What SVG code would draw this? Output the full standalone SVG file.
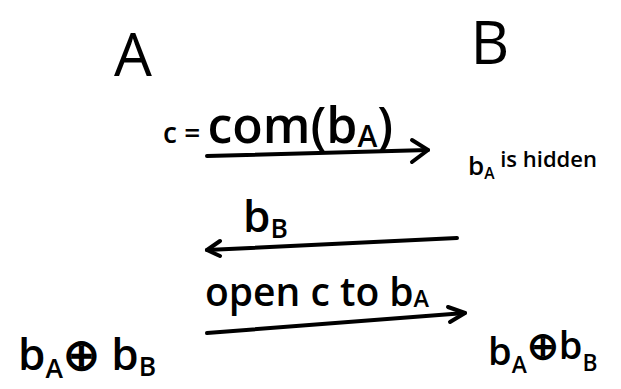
<svg xmlns="http://www.w3.org/2000/svg" width="621" height="389" viewBox="0 0 621 389">
<defs>
<style>
text{font-family:"Open Sans","Liberation Sans",sans-serif;fill:#000;font-weight:600;}
.big{font-size:60px;font-weight:400;}
.lbl{font-size:44px;}
.sm{font-size:26px;}
.sub{font-size:0.6em;}
.conn line,.conn polyline{stroke:#000;stroke-width:4;fill:none;stroke-linecap:round;stroke-linejoin:round;}
</style>
</defs>
<rect width="621" height="389" fill="#fff"/>
<g id="nodeA"><text class="big" x="133" y="76" text-anchor="middle">A</text></g>
<g id="nodeB"><text class="big" x="490" y="64" text-anchor="middle">B</text></g>
<g id="labelB-hidden"><text class="sm" x="468" y="175">b<tspan class="sub" dy="4">A</tspan><tspan dy="-12" style="font-size:22px"> is hidden</tspan></text></g>
<g id="resultA"><text class="lbl" x="18" y="370">b<tspan class="sub" dy="8">A</tspan><tspan dy="-8">⊕ b</tspan><tspan class="sub" dy="6">B</tspan></text></g>
<g id="resultB"><text style="font-size:38px" x="488" y="365">b<tspan class="sub" dy="8">A</tspan><tspan dy="-14">⊕b</tspan><tspan class="sub" dy="12">B</tspan></text></g>
<g class="conn" id="connectors">
<g id="msg1">
<line x1="207" y1="156" x2="428" y2="150"/>
<polyline points="412,140 428,150 412,162"/>
<text style="font-size:50px" x="163" y="143"><tspan style="font-size:28px">c = </tspan>com(b<tspan class="sub" dy="4">A</tspan><tspan dy="-4">)</tspan></text>
</g>
<g id="msg2">
<line x1="457" y1="238" x2="207" y2="250"/>
<polyline points="220,241 207,250 220,256"/>
<text class="lbl" x="243" y="232">b<tspan class="sub" dy="6">B</tspan></text>
</g>
<g id="msg3">
<line x1="207" y1="333" x2="465" y2="313"/>
<polyline points="448,307 465,313 450,322"/>
<text style="font-size:39px" x="205" y="306">open c to b<tspan class="sub" dy="1">A</tspan></text>
</g>
</g>
</svg>
